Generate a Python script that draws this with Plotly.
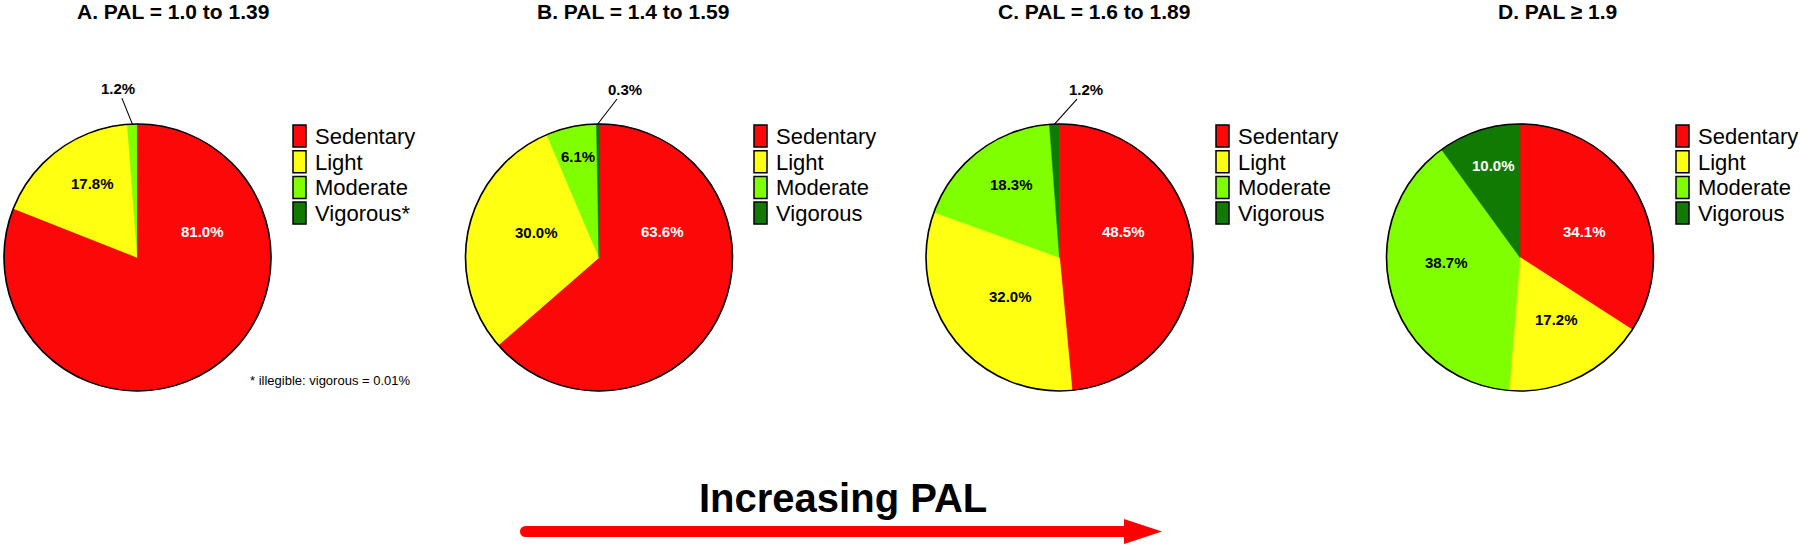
import math
import plotly.graph_objects as go

# ---------------- data ----------------
categories = ["Sedentary", "Light", "Moderate", "Vigorous"]
panel_titles = ["A. PAL = 1.0 to 1.39", "B. PAL = 1.4 to 1.59",
                "C. PAL = 1.6 to 1.89", "D. PAL \u2265 1.9"]
pal_a = [81.0, 17.8, 1.2, 0.01]
pal_b = [63.6, 30.0, 6.1, 0.3]
pal_c = [48.5, 32.0, 18.3, 1.2]
pal_d = [34.1, 17.2, 38.7, 10.0]
legend_suffix_a = ["", "", "", "*"]
footnote = "* illegible: vigorous = 0.01%"
bottom_label = "Increasing PAL"

# ---------------- style ----------------
W, H = 1800, 547
FONT = "Liberation Sans, Arial, Helvetica, sans-serif"
COLORS = ["#FC0808", "#FFFF12", "#80FF00", "#117A03"]
TEXT_COLORS = ["white", "black", "black", "white"]
PIE_CX = [137.5, 599.0, 1059.5, 1520.0]
PIE_CY = 257.5
PIE_R = 133.5
TITLE_X = [172.5, 633, 1093.5, 1557]
LEGEND_X = [293, 754, 1216, 1676]
LEGEND_TOP = 125
LEGEND_PITCH = 25.7
BOX_W, BOX_H = 13, 22

# label placement per panel: kind, offset (px) from pie centre (inside) or from slice edge (outside)
LABEL_PLACE = [
    {0: ("in", 64.5, -26), 1: ("in", -45.5, -73.5), 2: ("out", -14.5, -36)},
    {0: ("in", 63, -26), 1: ("in", -63, -25), 2: ("in", -21, -101), 3: ("out", 27, -35)},
    {0: ("in", 63.5, -26), 1: ("in", -49.5, 39), 2: ("in", -47.5, -73), 3: ("out", 31.5, -35)},
    {0: ("in", 64, -26), 1: ("in", 36, 62), 2: ("in", -74, 5), 3: ("in", -27, -92)},
]


def X(px):
    return px / W


def Y(py):
    return 1 - py / H


panels = [pal_a, pal_b, pal_c, pal_d]
fig = go.Figure()
annotations = []
shapes = []

for i, vals in enumerate(panels):
    cx = PIE_CX[i]
    r = PIE_R
    dom = dict(x=[X(cx - r), X(cx + r)], y=[Y(PIE_CY + r), Y(PIE_CY - r)])
    fig.add_trace(go.Pie(
        values=vals, labels=categories, sort=False, direction="clockwise", rotation=0,
        marker=dict(colors=COLORS, line=dict(color=COLORS, width=0.6)),
        textinfo="none", domain=dom, showlegend=False,
        hovertemplate="%{label}: %{value}%<extra></extra>",
    ))
    # outer black outline
    fig.add_trace(go.Pie(
        values=[1], labels=["outline"], sort=False,
        marker=dict(colors=["rgba(0,0,0,0)"], line=dict(color="black", width=1.6)),
        textinfo="none", domain=dom, showlegend=False, hoverinfo="skip",
    ))

    # title
    annotations.append(dict(
        text=panel_titles[i], x=X(TITLE_X[i]), y=Y(12), xref="paper", yref="paper",
        showarrow=False, xanchor="center", yanchor="middle",
        font=dict(family=FONT, size=21, color="black", weight="bold")))

    # slice labels
    total = sum(vals)
    cum = 0.0
    for k, v in enumerate(vals):
        mid = (cum + v / 2) / total
        cum += v
        place = LABEL_PLACE[i].get(k)
        if place is None:
            continue
        kind, dx, dy = place
        txt = f"{v:.1f}%"
        if kind == "in":
            annotations.append(dict(
                text=txt, x=X(cx + dx), y=Y(PIE_CY + dy), xref="paper", yref="paper",
                showarrow=False, xanchor="center", yanchor="middle",
                font=dict(family=FONT, size=15, color=TEXT_COLORS[k], weight="bold")))
        else:
            th = 2 * math.pi * mid
            ex = cx + r * math.sin(th)
            ey = PIE_CY - r * math.cos(th)
            annotations.append(dict(
                text=txt, x=X(ex), y=Y(ey), xref="paper", yref="paper",
                showarrow=True, arrowhead=0, arrowwidth=1.1, arrowcolor="black",
                ax=dx, ay=dy, standoff=0,
                font=dict(family=FONT, size=15, color="black", weight="bold")))

    # legend
    lx = LEGEND_X[i]
    for k, cat in enumerate(categories):
        top = LEGEND_TOP + k * LEGEND_PITCH
        shapes.append(dict(
            type="rect", xref="paper", yref="paper",
            x0=X(lx), x1=X(lx + BOX_W), y0=Y(top + BOX_H), y1=Y(top),
            fillcolor=COLORS[k], line=dict(color="black", width=1.5)))
        label = cat + (legend_suffix_a[k] if i == 0 else "")
        annotations.append(dict(
            text=label, x=X(lx + 20), y=Y(top + BOX_H / 2 + 0.5), xref="paper", yref="paper",
            showarrow=False, xanchor="left", yanchor="middle",
            font=dict(family=FONT, size=22, color="black")))

# footnote (panel A)
annotations.append(dict(
    text=footnote, x=X(248), y=Y(380), xref="paper", yref="paper",
    showarrow=False, xanchor="left", yanchor="middle",
    font=dict(family=FONT, size=13, color="black")))

# bottom arrow
annotations.append(dict(
    text=bottom_label, x=X(842.5), y=Y(498), xref="paper", yref="paper",
    showarrow=False, xanchor="center", yanchor="middle",
    font=dict(family=FONT, size=40, color="black", weight="bold")))
RED = "#FF0000"
shapes.append(dict(type="rect", xref="paper", yref="paper",
                   x0=X(526), x1=X(1126), y0=Y(537), y1=Y(526),
                   fillcolor=RED, line=dict(width=0)))
shapes.append(dict(type="circle", xref="paper", yref="paper",
                   x0=X(520), x1=X(531), y0=Y(537), y1=Y(526),
                   fillcolor=RED, line=dict(width=0)))
shapes.append(dict(type="path", xref="paper", yref="paper",
                   path=f"M {X(1124)} {Y(519)} L {X(1162)} {Y(531.5)} L {X(1124)} {Y(544)} Z",
                   fillcolor=RED, line=dict(width=0)))

fig.update_layout(
    width=W, height=H, margin=dict(l=0, r=0, t=0, b=0),
    paper_bgcolor="white", plot_bgcolor="white",
    annotations=annotations, shapes=shapes, showlegend=False,
)
fig.write_html(
    "out.html",
    config={"displayModeBar": False},
    post_script="document.body.style.margin='0';document.body.style.overflow='hidden';",
)
